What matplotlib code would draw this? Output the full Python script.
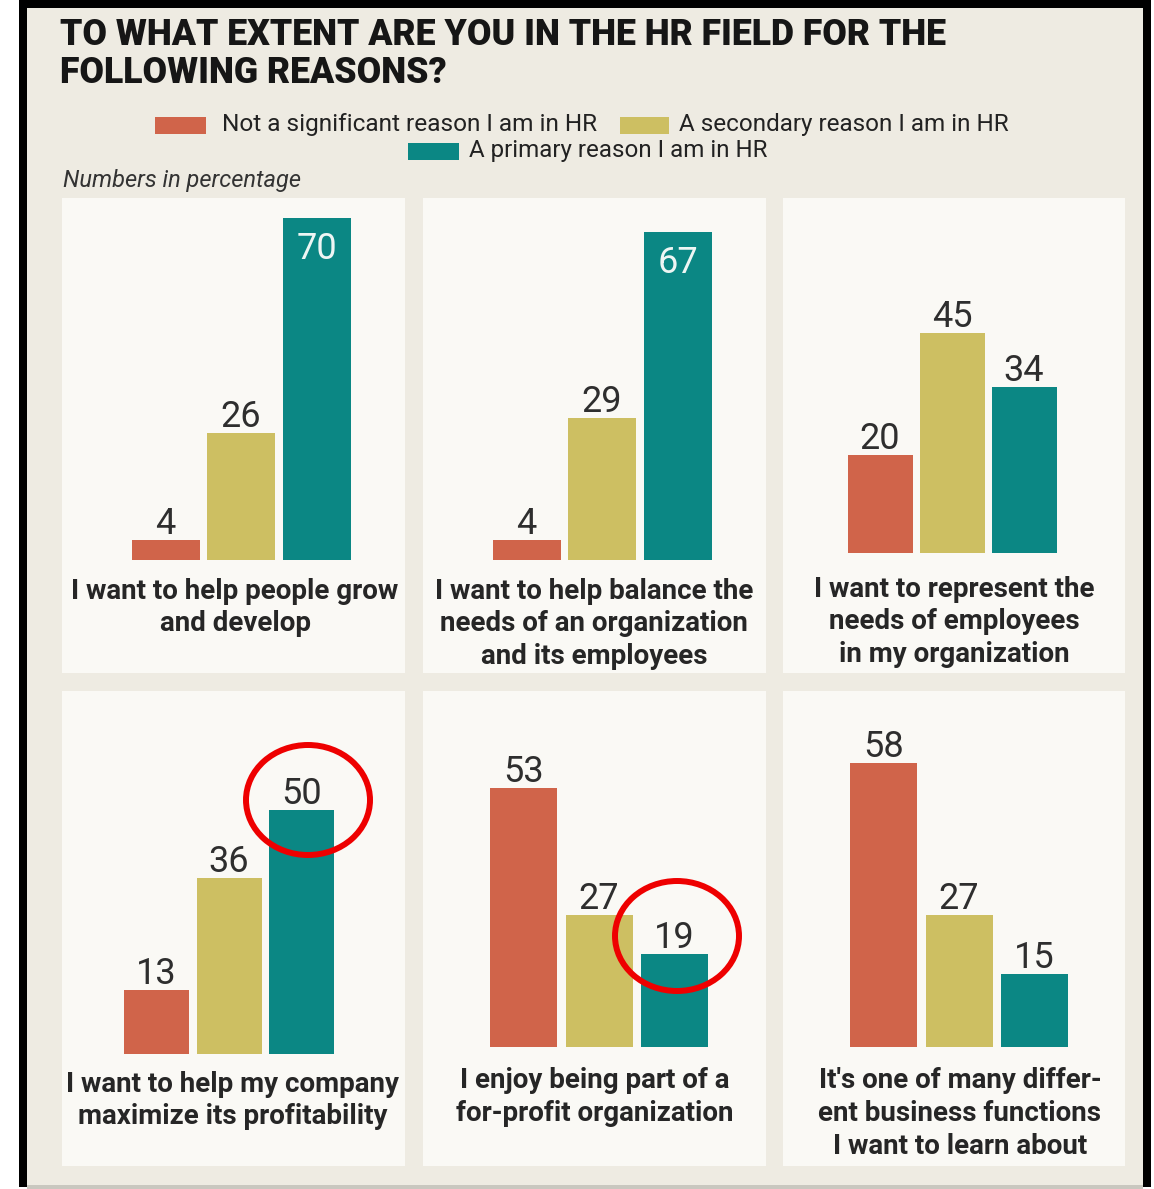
import matplotlib
matplotlib.use('Agg')
import matplotlib.pyplot as plt
from matplotlib.patches import Rectangle, Ellipse

plt.rcParams['font.family'] = ['Roboto', 'DejaVu Sans']

# Data
title_lines = ['TO WHAT EXTENT ARE YOU IN THE HR FIELD FOR THE', 'FOLLOWING REASONS?']
series = ['Not a significant reason I am in HR', 'A secondary reason I am in HR',
          'A primary reason I am in HR']
colors = ['#d0644a', '#cdbf62', '#0b8784']
reasons = [
    ['I want to help people grow', 'and develop'],
    ['I want to help balance the', 'needs of an organization', 'and its employees'],
    ['I want to represent the', 'needs of employees', 'in my organization'],
    ['I want to help my company', 'maximize its profitability'],
    ['I enjoy being part of a', 'for-profit organization'],
    ["It's one of many differ-", 'ent business functions', 'I want to learn about'],
]
not_significant = [4, 4, 20, 13, 53, 58]
secondary = [26, 29, 45, 36, 27, 27]
primary = [70, 67, 34, 50, 19, 15]

W, H = 1154, 1189
fig = plt.figure(figsize=(W / 100, H / 100), dpi=100)
fig.patch.set_facecolor('white')


def fx(x):
    return x / W


def fy(y):
    return 1 - y / H


def frect(x0, y0, x1, y1, **kw):
    fig.add_artist(Rectangle((fx(x0), fy(y1)), fx(x1) - fx(x0), fy(y0) - fy(y1),
                             transform=fig.transFigure, zorder=-10, **kw))


# frame and background
frect(19, 0, 1151, 1187, facecolor='black', lw=0)
frect(27, 8, 1143, 1186, facecolor='#eeebe2', lw=0)
frect(27, 1185, 1143, 1189, facecolor='#c9c7bf', lw=0)

# layout in pixels: panel box, group centre, bar spacing, bar width, baseline, label x, label y
panels = [
    dict(box=(62, 198, 405, 673), cx=241, sp=75.5, bw=68, base=560, lx=235, ly=591),
    dict(box=(423, 198, 766, 673), cx=602, sp=75.5, bw=68, base=560, lx=594, ly=591),
    dict(box=(783, 198, 1125, 673), cx=952, sp=72, bw=65, base=553, lx=954, ly=589),
    dict(box=(62, 691, 405, 1166), cx=229, sp=72.5, bw=65, base=1054, lx=233, ly=1084),
    dict(box=(423, 691, 766, 1166), cx=599, sp=75.5, bw=67, base=1047, lx=595, ly=1081),
    dict(box=(783, 691, 1125, 1166), cx=959, sp=75.7, bw=67, base=1047, lx=960, ly=1081),
]
unit = 4.89  # pixels per percentage point
ymax = 75

renderer = fig.canvas.get_renderer()


def fit(t, width_px):
    w = t.get_window_extent(renderer).width
    t.set_fontsize(t.get_fontsize() * width_px / w)


for i, p in enumerate(panels):
    x0, y0, x1, y1 = p['box']
    frect(x0, y0, x1, y1, facecolor='#faf9f5', lw=0)
    left = p['cx'] - 1.5 * p['sp']
    top = p['base'] - ymax * unit
    ax = fig.add_axes([fx(left), fy(p['base']), 3 * p['sp'] / W, (p['base'] - top) / H])
    ax.set_xlim(-0.5, 2.5)
    ax.set_ylim(0, ymax)
    ax.axis('off')
    vals = [not_significant[i], secondary[i], primary[i]]
    ax.bar(range(3), vals, width=p['bw'] / p['sp'], color=colors)
    for j, v in enumerate(vals):
        if v >= 60:
            ax.annotate(str(v), (j, v), xytext=(0, -13), textcoords='offset pixels',
                        ha='center', va='top', fontsize=26, color='#eef6f4')
        else:
            ax.annotate(str(v), (j, v), xytext=(0, 6), textcoords='offset pixels',
                        ha='center', va='baseline', fontsize=26, color='#2e2e2e')
    for k, line in enumerate(reasons[i]):
        fig.text(fx(p['lx']), fy(p['ly'] + 32.5 * k), line, ha='center', va='center',
                 fontsize=20, fontweight='bold', color='#262626')

# title
t1 = fig.text(fx(60), fy(35), title_lines[0], ha='left', va='center',
              fontsize=26, fontweight='black', color='#161616')
t2 = fig.text(fx(60), fy(73), title_lines[1], ha='left', va='center',
              fontsize=26, fontweight='black', color='#161616')
fit(t1, 890)
t2.set_fontsize(t1.get_fontsize())

# legend
legend_pos = [((155, 117, 206, 134), 222, 125, 376),
              ((620, 117, 669, 134), 679, 125, 331),
              ((408, 143, 459, 160), 469, 151, 299)]
for (box, tx, ty, tw), name, c in zip(legend_pos, series, colors):
    frect(*box, facecolor=c, lw=0)
    lt = fig.text(fx(tx), fy(ty), name, ha='left', va='center', fontsize=16, color='#222222')
    fit(lt, tw)

nt = fig.text(fx(63), fy(180), 'Numbers in percentage', ha='left', va='center',
              fontsize=15, fontstyle='italic', color='#333333')
fit(nt, 239)

# red circles
for (cx, cy) in [(308, 800), (677, 936)]:
    fig.add_artist(Ellipse((fx(cx), fy(cy)), 124 / W, 110 / H, transform=fig.transFigure,
                           fill=False, edgecolor='#ee0000', lw=4.3, zorder=5))

fig.savefig('out.png', dpi=100)
